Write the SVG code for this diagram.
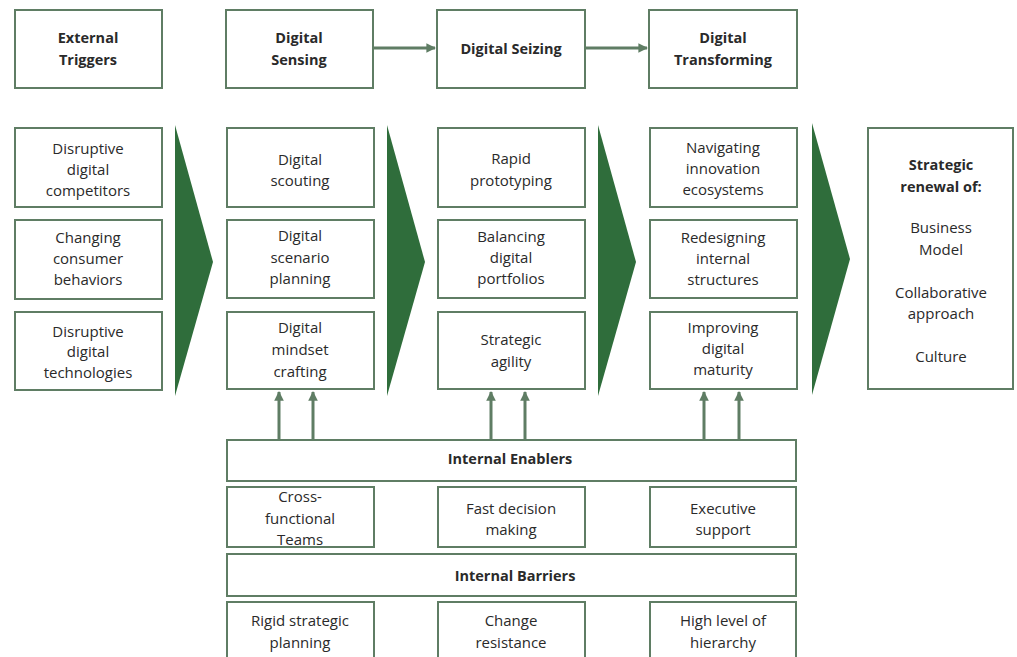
<svg xmlns="http://www.w3.org/2000/svg" width="1017" height="657" viewBox="0 0 1017 657">
<defs>
<style>
.box{fill:#fff;stroke:#5f7d64;stroke-width:2}
.t{font-family:"Open Sans","Liberation Sans",sans-serif;font-size:15px;fill:#2a2a2a;text-anchor:middle}
.b{font-weight:bold;font-size:14.5px}
.chev{fill:#2f6d3b}
.con{stroke:#5f7d64;stroke-width:3;fill:none}
</style>
<marker id="ah" viewBox="0 0 10 10" refX="9" refY="5" markerWidth="3.2" markerHeight="3.2" orient="auto">
<path d="M0,0 L10,5 L0,10 z" fill="#5f7d64"/>
</marker>
</defs>
<rect width="1017" height="657" fill="#fff"/>

<g id="connectors">
<line class="con" x1="374" y1="48" x2="435" y2="48" marker-end="url(#ah)"/>
<line class="con" x1="586" y1="48" x2="647" y2="48" marker-end="url(#ah)"/>
<line class="con" x1="279" y1="440" x2="279" y2="392" marker-end="url(#ah)"/>
<line class="con" x1="313" y1="440" x2="313" y2="392" marker-end="url(#ah)"/>
<line class="con" x1="491" y1="440" x2="491" y2="392" marker-end="url(#ah)"/>
<line class="con" x1="525" y1="440" x2="525" y2="392" marker-end="url(#ah)"/>
<line class="con" x1="704" y1="440" x2="704" y2="392" marker-end="url(#ah)"/>
<line class="con" x1="739" y1="440" x2="739" y2="392" marker-end="url(#ah)"/>
</g>

<g id="chevrons">
<polygon class="chev" points="175,125 213,262 175,396"/>
<polygon class="chev" points="387,125 425,262 387,396"/>
<polygon class="chev" points="598,125 636,262 598,396"/>
<polygon class="chev" points="812,123 850,259 812,395"/>
</g>

<g id="external-triggers"><rect class="box" x="15" y="10" width="147" height="78"/>
<text class="t b" x="88" y="43">External</text><text class="t b" x="88" y="65">Triggers</text></g>
<g id="digital-sensing"><rect class="box" x="226" y="10" width="147" height="78"/>
<text class="t b" x="299" y="43">Digital</text><text class="t b" x="299" y="65">Sensing</text></g>
<g id="digital-seizing"><rect class="box" x="437" y="10" width="148" height="78"/>
<text class="t b" x="511" y="54">Digital Seizing</text></g>
<g id="digital-transforming"><rect class="box" x="649" y="10" width="148" height="78"/>
<text class="t b" x="723" y="43">Digital</text><text class="t b" x="723" y="65">Transforming</text></g>

<g id="disruptive-competitors"><rect class="box" x="15" y="128" width="147" height="79"/>
<text class="t" x="88" y="154">Disruptive</text><text class="t" x="88" y="175">digital</text><text class="t" x="88" y="196">competitors</text></g>
<g id="changing-consumer"><rect class="box" x="15" y="220" width="147" height="79"/>
<text class="t" x="88" y="243">Changing</text><text class="t" x="88" y="264">consumer</text><text class="t" x="88" y="285">behaviors</text></g>
<g id="disruptive-technologies"><rect class="box" x="15" y="312" width="147" height="78"/>
<text class="t" x="88" y="337">Disruptive</text><text class="t" x="88" y="357">digital</text><text class="t" x="88" y="378">technologies</text></g>

<g id="digital-scouting"><rect class="box" x="227" y="128" width="147" height="79"/>
<text class="t" x="300" y="165">Digital</text><text class="t" x="300" y="186">scouting</text></g>
<g id="scenario-planning"><rect class="box" x="227" y="220" width="147" height="78"/>
<text class="t" x="300" y="241">Digital</text><text class="t" x="300" y="263">scenario</text><text class="t" x="300" y="284">planning</text></g>
<g id="mindset-crafting"><rect class="box" x="227" y="312" width="147" height="77"/>
<text class="t" x="300" y="333">Digital</text><text class="t" x="300" y="355">mindset</text><text class="t" x="300" y="377">crafting</text></g>

<g id="rapid-prototyping"><rect class="box" x="438" y="128" width="147" height="79"/>
<text class="t" x="511" y="164">Rapid</text><text class="t" x="511" y="186">prototyping</text></g>
<g id="balancing-portfolios"><rect class="box" x="438" y="220" width="147" height="78"/>
<text class="t" x="511" y="242">Balancing</text><text class="t" x="511" y="263">digital</text><text class="t" x="511" y="284">portfolios</text></g>
<g id="strategic-agility"><rect class="box" x="438" y="312" width="147" height="77"/>
<text class="t" x="511" y="345">Strategic</text><text class="t" x="511" y="367">agility</text></g>

<g id="navigating-ecosystems"><rect class="box" x="650" y="128" width="147" height="79"/>
<text class="t" x="723" y="153">Navigating</text><text class="t" x="723" y="174">innovation</text><text class="t" x="723" y="195">ecosystems</text></g>
<g id="redesigning-structures"><rect class="box" x="650" y="220" width="147" height="78"/>
<text class="t" x="723" y="243">Redesigning</text><text class="t" x="723" y="264">internal</text><text class="t" x="723" y="285">structures</text></g>
<g id="improving-maturity"><rect class="box" x="650" y="312" width="147" height="77"/>
<text class="t" x="723" y="333">Improving</text><text class="t" x="723" y="354">digital</text><text class="t" x="723" y="375">maturity</text></g>

<g id="strategic-renewal"><rect class="box" x="868" y="128" width="145" height="261"/>
<text class="t b" x="941" y="170">Strategic</text><text class="t b" x="941" y="192">renewal of:</text>
<text class="t" x="941" y="233">Business</text><text class="t" x="941" y="255">Model</text>
<text class="t" x="941" y="298">Collaborative</text><text class="t" x="941" y="319">approach</text>
<text class="t" x="941" y="362">Culture</text></g>

<g id="internal-enablers"><rect class="box" x="227" y="440" width="569" height="41"/>
<text class="t b" x="510" y="464">Internal Enablers</text></g>
<g id="cross-functional"><rect class="box" x="227" y="487" width="147" height="60"/>
<text class="t" x="300" y="502">Cross-</text><text class="t" x="300" y="524">functional</text><text class="t" x="300" y="545">Teams</text></g>
<g id="fast-decision"><rect class="box" x="438" y="487" width="147" height="60"/>
<text class="t" x="511" y="514">Fast decision</text><text class="t" x="511" y="535">making</text></g>
<g id="executive-support"><rect class="box" x="650" y="487" width="146" height="60"/>
<text class="t" x="723" y="514">Executive</text><text class="t" x="723" y="535">support</text></g>

<g id="internal-barriers"><rect class="box" x="227" y="554" width="569" height="42"/>
<text class="t b" x="515" y="581">Internal Barriers</text></g>
<g id="rigid-planning"><rect class="box" x="227" y="602" width="147" height="62"/>
<text class="t" x="300" y="626">Rigid strategic</text><text class="t" x="300" y="648">planning</text></g>
<g id="change-resistance"><rect class="box" x="438" y="602" width="147" height="62"/>
<text class="t" x="511" y="626">Change</text><text class="t" x="511" y="648">resistance</text></g>
<g id="high-hierarchy"><rect class="box" x="650" y="602" width="146" height="62"/>
<text class="t" x="723" y="626">High level of</text><text class="t" x="723" y="648">hierarchy</text></g>
</svg>
